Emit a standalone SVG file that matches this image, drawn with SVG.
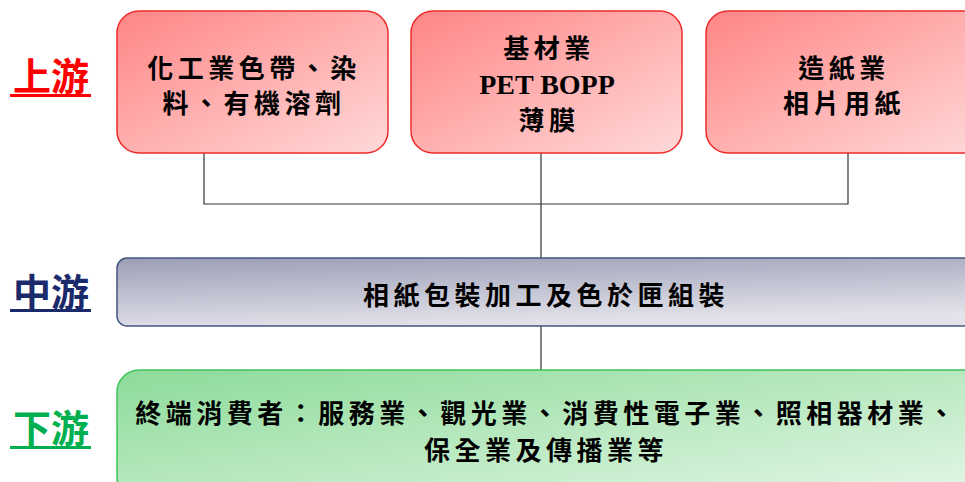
<svg xmlns="http://www.w3.org/2000/svg" width="965" height="482" viewBox="0 0 965 482">
<defs>
<linearGradient id="gRed" x1="0" y1="0" x2="1" y2="1">
<stop offset="0" stop-color="#ff8585"/>
<stop offset="1" stop-color="#ffd9d9"/>
</linearGradient>
<linearGradient id="gBlue" x1="0" y1="0" x2="0.3" y2="1">
<stop offset="0" stop-color="#9c9eb6"/>
<stop offset="1" stop-color="#e2e2ea"/>
</linearGradient>
<linearGradient id="gGreen" x1="0" y1="0" x2="1" y2="1">
<stop offset="0" stop-color="#8ddb9a"/>
<stop offset="1" stop-color="#e6f7e8"/>
</linearGradient>
</defs>
<style>
.red{fill:url(#gRed);stroke:#ee2b2b;stroke-width:1.5}
.blue{fill:url(#gBlue);stroke:#44557f;stroke-width:1.5}
.green{fill:url(#gGreen);stroke:#3cc35a;stroke-width:1.5}
.t{font-family:"Noto Sans CJK TC","Noto Sans CJK SC",sans-serif;font-weight:bold;font-size:26px;fill:#000;text-anchor:middle;letter-spacing:4.5px}
.lat{font-family:"Liberation Serif",serif;font-weight:bold;font-size:28px;fill:#000;text-anchor:middle}
.lbl{font-family:"Noto Sans CJK TC","Noto Sans CJK SC",sans-serif;font-weight:bold;font-size:38px;text-anchor:middle}
.conn{stroke:#333;stroke-width:1.2;fill:none}
</style>
<g id="connectors">
<polyline class="conn" points="204,153 204,204 848,204 848,153"/>
<line class="conn" x1="541" y1="153" x2="541" y2="258"/>
<line class="conn" x1="541" y1="326" x2="541" y2="370"/>
</g>
<g id="label-up">
<text class="lbl" x="51" y="90" fill="#ff0000">上游</text>
<rect x="10" y="94" width="81" height="3" fill="#ff0000"/>
</g>
<g id="label-mid">
<text class="lbl" x="51" y="306" fill="#1b2a6b">中游</text>
<rect x="10" y="309" width="81" height="3" fill="#1b2a6b"/>
</g>
<g id="label-down">
<text class="lbl" x="51" y="442" fill="#00b050">下游</text>
<rect x="10" y="446" width="81" height="3" fill="#00b050"/>
</g>
<g id="node-chem">
<rect class="red" x="117" y="11" width="271" height="142" rx="22"/>
<text class="t" x="254" y="78">化工業色帶、染</text>
<text class="t" x="254" y="113">料、有機溶劑</text>
</g>
<g id="node-base">
<rect class="red" x="411" y="11" width="271" height="142" rx="22"/>
<text class="t" x="549" y="58">基材業</text>
<text class="lat" x="547" y="94">PET BOPP</text>
<text class="t" x="549" y="130">薄膜</text>
</g>
<g id="node-paper">
<rect class="red" x="706" y="11" width="280" height="142" rx="22"/>
<text class="t" x="844" y="78">造紙業</text>
<text class="t" x="844" y="113">相片用紙</text>
</g>
<g id="node-mid">
<rect class="blue" x="117" y="258" width="870" height="68" rx="10"/>
<text class="t" x="546" y="305">相紙包裝加工及色於匣組裝</text>
</g>
<g id="node-down">
<rect class="green" x="117" y="370" width="870" height="130" rx="22"/>
<text class="t" x="547" y="423">終端消費者：服務業、觀光業、消費性電子業、照相器材業、</text>
<text class="t" x="546" y="460">保全業及傳播業等</text>
</g>
</svg>
